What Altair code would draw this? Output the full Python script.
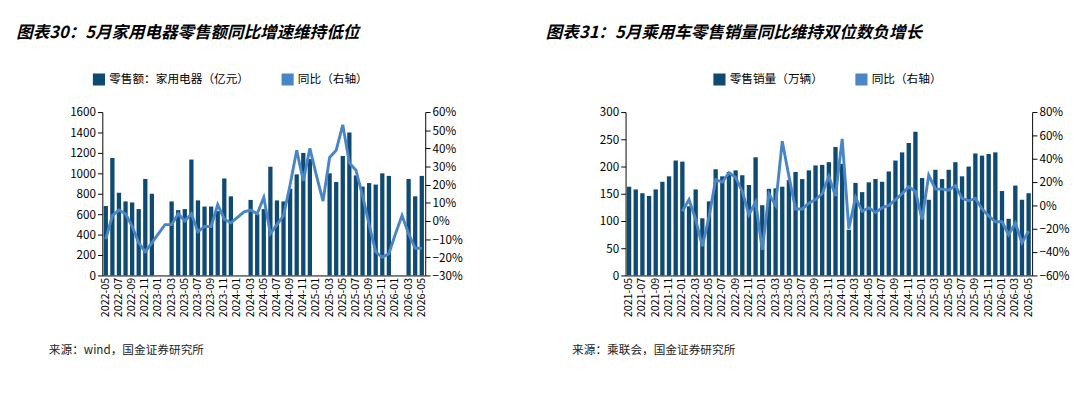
import altair as alt
import pandas as pd

FONT = "Noto Sans CJK SC"
BAR_C = "#0f4a73"
LINE_C = "#4a86c5"

# ---- left: 家用电器 ----
months_a = pd.period_range("2022-05", "2026-05", freq="M").strftime("%Y-%m").tolist()
sales_a = [680, 1150, 810, 725, 715, 650, 945, 800, None, None,
           725, 640, 650, 1135, 735, 675, 675, 630, 950, 775, None, None,
           740, 600, 650, 1065, 735, 725, 850, 990, 1200, 1140, None, None,
           1000, 915, 1170, 1400, 980, 870, 905, 890, 1000, 975, None, None,
           945, 775, 975]
yoy_a = [-10, 3, 6, 4, -3, -12, -17, -12, -7, -2,
         -2, 4, 0, 4, -6, -3, -3, 9, 1, -1, 2, 5,
         6, 4, 13, -7, -2, 3, 20, 39, 22, 40, 25, 11,
         35, 39, 53, 32, 28, 14, -2, -17, -20, -18, -7, 3,
         -7, -15, -15]

# ---- right: 乘用车 ----
months_b = pd.period_range("2021-05", "2026-05", freq="M").strftime("%Y-%m").tolist()
sales_b = [163, 158, 151, 146, 158, 172, 182, 211,
           209, 127, 158, 105, 136, 195, 182, 190, 193, 184, 166, 217,
           129, 159, 160, 163, 175, 190, 177, 193, 202, 203, 208, 236,
           205, 84, 170, 153, 171, 177, 172, 191, 211, 226, 243, 264,
           179, 139, 194, 177, 194, 208, 182, 200, 224, 220, 223, 226,
           155, 104, 165, 139, 151]
yoy_b = [None] * 8 + [
    -5, 5, -12, -35, -10, 22, 20, 28, 24, 12, -8, 3,
    -38, 10, 0, 55, 25, -3, -3, 2, 5, 10, 25, 8,
    57, -20, 7, -5, -2, -6, -2, 0, 5, 10, 16, 12,
    -12, 26, 14, 14, 13, 17, 6, 4, 6, -3, -9, -14,
    -14, -25, -15, -32, -22]


def panel(months, sales, yoy, bar_name, ydom, ystep, rdom, rstep, w, title, source, lx):
    df = pd.DataFrame({"month": months, "sales": sales,
                       "yoy": [None if v is None else v / 100 for v in yoy]})
    df["s1"] = bar_name
    df["s2"] = "同比（右轴）"
    color = alt.Scale(domain=[bar_name, "同比（右轴）"], range=[BAR_C, LINE_C])
    xax = alt.X("month:O", title=None, scale=alt.Scale(paddingInner=0.35, paddingOuter=0.2),
                axis=alt.Axis(values=months[::2], labelAngle=-90, labelFontSize=11,
                              ticks=False, domainColor="#000", labelColor="#000"))
    bars = alt.Chart(df).transform_filter("datum.sales != null").mark_bar(color=BAR_C).encode(
        x=xax,
        y=alt.Y("sales:Q", title=None, scale=alt.Scale(domain=ydom, nice=False),
                axis=alt.Axis(values=list(range(ydom[0], ydom[1] + 1, ystep)), grid=False,
                              format="d", labelFontSize=12, domainColor="#000",
                              tickColor="#000", labelColor="#000")),
        color=alt.Color("s1:N", scale=color, title=None,
                        legend=alt.Legend(orient="none", legendX=lx, legendY=-40,
                                          direction="horizontal", labelFontSize=12,
                                          symbolType="square", symbolSize=120,
                                          labelFont=FONT, columnPadding=30)),
    )
    line = alt.Chart(df).transform_filter("datum.yoy != null").mark_line(
        color=LINE_C, strokeWidth=3).encode(
        x=xax,
        y=alt.Y("yoy:Q", title=None, scale=alt.Scale(domain=rdom, nice=False),
                axis=alt.Axis(orient="right", format=".0%", grid=False,
                              values=[v / 100 for v in range(int(rdom[0] * 100), int(rdom[1] * 100) + 1, rstep)],
                              labelFontSize=12, domainColor="#000", tickColor="#000",
                              labelColor="#000")),
        color=alt.Color("s2:N", scale=color, title=None),
    )
    chart = alt.layer(bars, line).resolve_scale(y="independent").properties(
        width=w, height=168,
        title=alt.TitleParams(title, anchor="start", fontSize=17, font=FONT,
                              fontStyle="italic", fontWeight="bold", offset=66, dx=-55))
    src = alt.Chart(pd.DataFrame({"t": [source]})).mark_text(
        align="left", font=FONT, fontSize=12, color="#222").encode(
        x=alt.value(-55), y=alt.value(22), text="t:N").properties(width=w, height=24)
    return alt.vconcat(chart, src, spacing=12)


left = panel(months_a, sales_a, yoy_a, "零售额：家用电器（亿元）", [0, 1600], 200,
             [-0.3, 0.6], 10, 332, "图表30：5月家用电器零售额同比增速维持低位",
             "来源：wind，国金证券研究所", -10)
right = panel(months_b, sales_b, yoy_b, "零售销量（万辆）", [0, 300], 50,
              [-0.6, 0.8], 20, 418, "图表31：5月乘用车零售销量同比维持双位数负增长",
              "来源：乘联会，国金证券研究所", 90)

chart = alt.hconcat(left, right, spacing=85).resolve_scale(color="independent").configure(
    font=FONT, padding={"left": 8, "top": 12, "right": 2, "bottom": 2}).configure_view(stroke=None)

chart.save("out.html", embed_options={"renderer": "svg", "actions": False})
